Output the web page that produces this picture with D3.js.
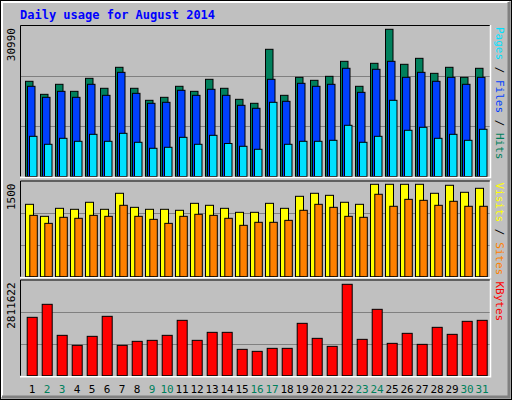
<!DOCTYPE html><html><head><meta charset="utf-8">
<script src="https://cdn.jsdelivr.net/npm/d3@7"></script>
<style>body{margin:0;background:#fff}svg{display:block}</style></head><body>
<script>
const days = d3.range(1, 32);
const weekendDays = [2,3,9,10,16,17,23,24,30,31];
const hits = [20040,17300,19410,17930,20670,18570,22990,18570,16040,16670,18990,17930,20460,18570,16250,15410,26780,17090,20880,20250,21090,24250,18990,23830,30990,23620,24880,21720,22990,20880,22780];
const files = [18990,16670,17930,16670,19410,17090,21930,17510,15410,15620,18150,17090,18360,17090,14990,14360,20460,15830,19620,18990,19410,22780,17720,22570,24250,20880,21930,20040,20880,19410,20880];
const pages = [8460,6780,8040,7410,8880,7410,9090,7200,5940,6150,8250,6780,8670,6950,6360,5730,15620,6780,7410,7410,7620,10780,7200,8460,16040,9730,10360,8040,8880,7620,9940];
const visits = [1175,980,1110,1094,1208,1094,1354,1126,1094,1094,1078,1191,1159,1110,1045,1045,1191,1110,1305,1354,1321,1208,1175,1500,1500,1500,1500,1354,1484,1370,1435];
const sites = [996,866,964,948,996,980,1159,980,931,866,980,1013,996,948,834,883,883,915,1078,1175,1126,980,964,1338,1143,1256,1240,1159,1224,1143,1143];
const kbytes = [1795700,2195900,1241600,933800,1210800,1826500,933800,1056900,1087700,1241600,1703300,1087700,1333900,1333900,810600,749100,841400,841400,1611000,1149200,903000,2811622,1118400,2041900,995300,1303100,964500,1487800,1272400,1672500,1703300];
const topLabels = ["30990","1500","2811622"];

const svg = d3.select("body").append("svg").attr("width",512).attr("height",400);
svg.append("rect").attr("width",512).attr("height",400).attr("fill","#c0c0c0");
// outer bevel
svg.append("rect").attr("x",0.5).attr("y",0.5).attr("width",511).attr("height",399).attr("fill","none").attr("stroke","#000");
svg.append("path").attr("d","M2,397V2H509").attr("stroke","#fff").attr("stroke-width",2).attr("fill","none");
svg.append("path").attr("d","M2,397H509V2").attr("stroke","#808080").attr("stroke-width",3).attr("fill","none");

const font = "'DejaVu Sans Mono', monospace";
svg.append("text").attr("x",20).attr("y",19).attr("fill","#0000ff").attr("font-family",font)
  .attr("font-weight","bold").attr("font-size",12).text("Daily usage for August 2014");

const X0 = 20, X1 = 490;
const x = d3.scaleBand().domain(days).range([X0+5, X0+5+15*31]).paddingInner(0);

function panel(y0, y1, maxPx, maxVal, series, label, parts) {
  const y = d3.scaleLinear().domain([0, maxVal]).range([y1, maxPx]);
  const g = svg.append("g");
  // grid
  const h = y1 - y0;
  [1/3, 2/3].forEach(f => g.append("line").attr("x1",X0).attr("x2",X1)
    .attr("y1",Math.round(y1 - h*f)+0.5).attr("y2",Math.round(y1 - h*f)+0.5).attr("stroke","#808080"));
  series.forEach(s => {
    g.selectAll(null).data(s.data).enter().append("rect")
      .attr("x",(d,i)=>x(days[i])+s.off+0.5).attr("width",s.w)
      .attr("y",d=>y(d)).attr("height",d=>y1-y(d))
      .attr("fill",s.color).attr("stroke","#000").attr("stroke-width",1);
  });
  // bevel frame
  g.append("path").attr("d",`M${X0+0.5},${y1}V${y0+0.5}H${X1}`).attr("stroke","#000").attr("fill","none");
  g.append("path").attr("d",`M${X0},${y1+1}H${X1+0.5}V${y0}`).attr("stroke","#fff").attr("stroke-width",1.5).attr("fill","none");
  svg.append("text").attr("transform",`translate(15,${y0+3}) rotate(-90)`).attr("text-anchor","end")
    .attr("font-family",font).attr("font-size",11).attr("fill","#000").text(label);
  const t = svg.append("text").attr("transform",`translate(496,${y0+2}) rotate(90)`)
    .attr("font-family",font).attr("font-size",11);
  parts.forEach(p => t.append("tspan").attr("fill",p[1]).text(p[0]));
  return y;
}

panel(25, 176.5, 29.3, 30990, [
  {data:hits, off:0, w:7.5, color:"#00805c"},
  {data:files, off:2, w:7.5, color:"#0040ff"},
  {data:pages, off:4, w:7.5, color:"#00e0ff"}], topLabels[0],
  [["Hits","#00805c"],[" / ","#000"],["Files","#0040ff"],[" / ","#000"],["Pages","#00e0ff"]].reverse());

panel(180.5, 276.7, 184.3, 1500, [
  {data:visits, off:0, w:8, color:"#ffff00"},
  {data:sites, off:4.3, w:7.5, color:"#ff8000"}], topLabels[1],
  [["Sites","#ff8000"],[" / ","#000"],["Visits","#ffff00"]].reverse());

panel(279.5, 375.7, 284.3, 2811622, [
  {data:kbytes, off:1.7, w:10, color:"#ff0000"}], topLabels[2],
  [["KBytes","#ff0000"]]);

svg.selectAll(".dl").data(days).enter().append("text")
  .attr("x",d=>x(d)+7).attr("y",393).attr("text-anchor","middle")
  .attr("font-family",font).attr("font-size",11)
  .attr("fill",d=>weekendDays.includes(d)?"#00805c":"#000").text(d=>d);
</script></body></html>
